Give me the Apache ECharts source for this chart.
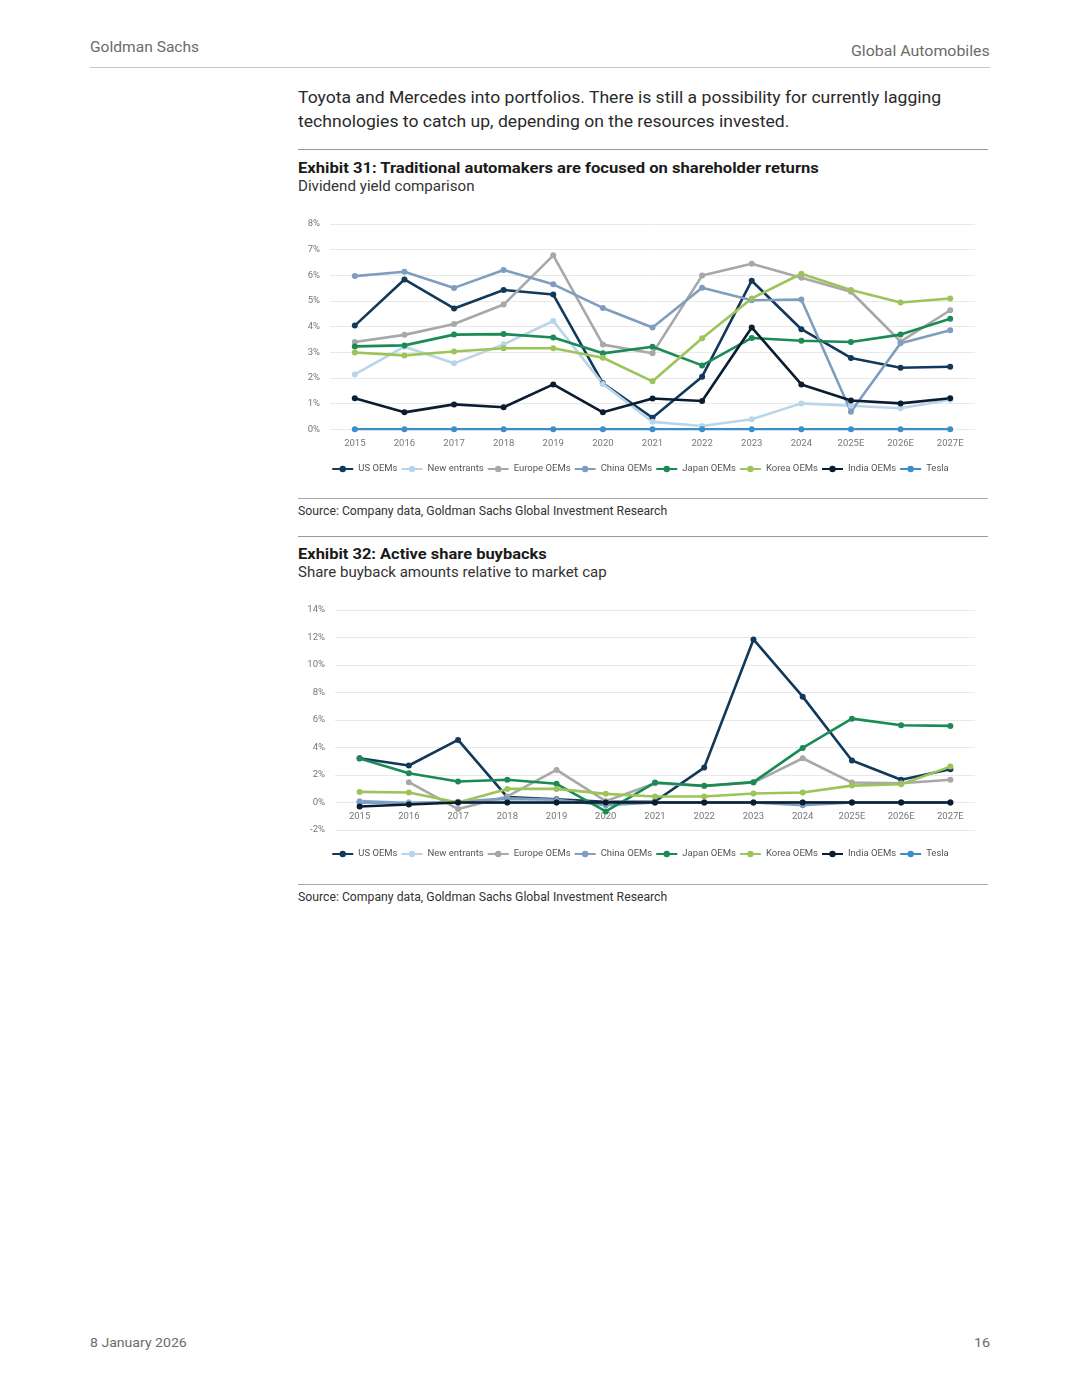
<!DOCTYPE html>
<html>
<head>
<meta charset="utf-8">
<script src="https://cdn.jsdelivr.net/npm/echarts@6/dist/echarts.min.js"></script>
<style>
  html,body{margin:0;padding:0;background:#fff;}
  body{width:1080px;height:1397px;position:relative;overflow:hidden;font-family:Roboto,"Noto Sans",sans-serif;}
  .t{position:absolute;white-space:nowrap;line-height:1;transform-origin:left center;}
  .hr{position:absolute;height:0;}
  .chart{position:absolute;}
</style>
</head>
<body>
<div class="t" data-x="90" data-y="47" data-w="109" style="font-size:15px;color:#6b6b6b;">Goldman Sachs</div>
<div class="t" data-x="851" data-y="51" data-w="139" style="font-size:15px;color:#6b6b6b;">Global Automobiles</div>
<div class="hr" style="left:90px;top:67px;width:900px;border-top:1.5px solid #c4c4c4;"></div>

<div class="t" data-x="298" data-y="97" data-w="643" style="font-size:17px;color:#2a2a2a;">Toyota and Mercedes into portfolios. There is still a possibility for currently lagging</div>
<div class="t" data-x="298" data-y="121" data-w="491" style="font-size:17px;color:#2a2a2a;">technologies to catch up, depending on the resources invested.</div>
<div class="hr" style="left:298px;top:149px;width:690px;border-top:1px solid #9a9a9a;"></div>

<div class="t" data-x="298" data-y="168" data-w="521" style="font-size:15px;font-weight:bold;color:#1a1a1a;">Exhibit 31: Traditional automakers are focused on shareholder returns</div>
<div class="t" data-x="298" data-y="186" data-w="177" style="font-size:14px;color:#333;">Dividend yield comparison</div>
<div id="c1" class="chart" style="left:290px;top:200px;width:700px;height:290px;"></div>
<div class="hr" style="left:298px;top:498px;width:690px;border-top:1px solid #a8a8a8;"></div>
<div class="t" data-x="298" data-y="511" data-w="369" style="font-size:12px;color:#333;">Source: Company data, Goldman Sachs Global Investment Research</div>
<div class="hr" style="left:298px;top:536px;width:690px;border-top:1px solid #9a9a9a;"></div>

<div class="t" data-x="298" data-y="554" data-w="249" style="font-size:15px;font-weight:bold;color:#1a1a1a;">Exhibit 32: Active share buybacks</div>
<div class="t" data-x="298" data-y="572" data-w="309" style="font-size:14px;color:#333;">Share buyback amounts relative to market cap</div>
<div id="c2" class="chart" style="left:290px;top:590px;width:700px;height:290px;"></div>
<div class="hr" style="left:298px;top:884px;width:690px;border-top:1px solid #a8a8a8;"></div>
<div class="t" data-x="298" data-y="897" data-w="369" style="font-size:12px;color:#333;">Source: Company data, Goldman Sachs Global Investment Research</div>

<div class="t" data-x="90" data-y="1343" data-w="97" style="font-size:13.5px;color:#6b6b6b;">8 January 2026</div>
<div class="t" data-x="974" data-y="1343" data-w="16" style="font-size:13.5px;color:#6b6b6b;">16</div>

<script>
// ---------- data ----------
var categories = ['2015','2016','2017','2018','2019','2020','2021','2022','2023','2024','2025E','2026E','2027E'];
var seriesNames = ['US OEMs','New entrants','Europe OEMs','China OEMs','Japan OEMs','Korea OEMs','India OEMs','Tesla'];

// Exhibit 31: dividend yield (%)
var divUS      = [4.04, 5.84, 4.71, 5.43, 5.25, 1.79, 0.45, 2.05, 5.79, 3.90, 2.78, 2.40, 2.44];
var divNew     = [2.14, 3.22, 2.57, 3.31, 4.22, 1.77, 0.29, 0.13, 0.39, 1.01, 0.92, 0.82, 1.15];
var divEurope  = [3.40, 3.68, 4.10, 4.86, 6.78, 3.30, 2.96, 5.99, 6.45, 5.91, 5.36, 3.42, 4.64];
var divChina   = [5.97, 6.14, 5.51, 6.21, 5.65, 4.73, 3.97, 5.52, 5.03, 5.06, 0.68, 3.35, 3.86];
var divJapan   = [3.23, 3.27, 3.69, 3.71, 3.58, 2.96, 3.22, 2.49, 3.56, 3.45, 3.40, 3.69, 4.31];
var divKorea   = [2.99, 2.88, 3.03, 3.16, 3.16, 2.79, 1.87, 3.55, 5.10, 6.06, 5.43, 4.94, 5.10];
var divIndia   = [1.21, 0.66, 0.97, 0.86, 1.75, 0.66, 1.20, 1.10, 3.97, 1.75, 1.12, 1.01, 1.21];
var divTesla   = [0, 0, 0, 0, 0, 0, 0, 0, 0, 0, 0, 0, 0];

// Exhibit 32: share buybacks relative to market cap (%)
var bbUS       = [3.22, 2.69, 4.55, 0.39, 0.24, 0.05, 0.07, 2.54, 11.86, 7.70, 3.05, 1.65, 2.42];
var bbNew      = [0.10, 0.00, 0.00, 0.10, 0.10, -0.10, 0.00, 0.00, 0.00, -0.10, 0.00, 0.00, 0.00];
var bbEurope   = [null, 1.48, -0.48, 0.44, 2.37, 0.10, 1.40, 1.20, 1.45, 3.22, 1.45, 1.40, 1.65];
var bbChina    = [0.08, -0.05, 0.05, 0.30, 0.20, -0.20, 0.00, 0.00, 0.00, -0.20, 0.00, 0.00, 0.00];
var bbJapan    = [3.20, 2.13, 1.53, 1.65, 1.36, -0.65, 1.45, 1.21, 1.48, 3.97, 6.10, 5.62, 5.57];
var bbKorea    = [0.77, 0.73, 0.00, 0.99, 0.99, 0.63, 0.44, 0.44, 0.65, 0.73, 1.23, 1.33, 2.61];
var bbIndia    = [-0.29, -0.15, 0.00, 0.00, 0.00, 0.00, 0.00, 0.00, 0.00, 0.00, 0.00, 0.00, 0.00];
var bbTesla    = [0, 0, 0, 0, 0, 0, 0, 0, 0, 0, 0, 0, 0];

var yTicks1 = {min: 0, max: 8, interval: 1};
var yTicks2 = {min: -2, max: 14, interval: 2};

// ---------- styling ----------
var colors = ['#12395a', '#b9d5ea', '#a8a8a8', '#7f9dbf', '#1b8a55', '#9cc45a', '#0b1d30', '#3b8fc9'];

// place & fit text
document.querySelectorAll('.t').forEach(function(el){
  var x = +el.dataset.x, y = +el.dataset.y, w = +el.dataset.w;
  var r = el.getBoundingClientRect();
  el.style.left = x + 'px';
  el.style.top = (y - r.height/2) + 'px';
  var s = w / el.scrollWidth;
  el.style.transform = 'scaleX(' + s + ')';
});

function makeSeries(datas, zs){
  return datas.map(function(d, i){
    return {
      name: seriesNames[i], type: 'line', data: d,
      symbol: 'circle', symbolSize: 6,
      z: zs ? zs[i] : 2,
      lineStyle: {width: 2.6, color: colors[i]},
      itemStyle: {color: colors[i]},
      emphasis: {disabled: true},
      connectNulls: false
    };
  });
}

function baseOption(grid, ticks, legendTop, fmt, xOffset){
  return {
    animation: false,
    color: colors,
    grid: grid,
    legend: {
      top: legendTop, left: 'center',
      itemWidth: 21, itemHeight: 8, itemGap: 3,
      textStyle: {fontSize: 9.5, color: '#555', fontFamily: 'Roboto'},
      data: seriesNames
    },
    xAxis: {
      type: 'category', data: categories, boundaryGap: true,
      offset: xOffset,
      axisLine: {show: false, onZero: false},
      axisTick: {show: false},
      axisLabel: {fontSize: 9.5, color: '#777', margin: 9, fontFamily: 'Roboto'}
    },
    yAxis: {
      type: 'value', min: ticks.min, max: ticks.max, interval: ticks.interval,
      axisLine: {show: false}, axisTick: {show: false},
      axisLabel: {fontSize: 9.5, color: '#777', margin: 10, formatter: fmt, fontFamily: 'Roboto'},
      splitLine: {lineStyle: {color: '#e9e9e9', width: 1}}
    }
  };
}

var c1 = echarts.init(document.getElementById('c1'));
var o1 = baseOption({left: 40, width: 645, top: 24, height: 205.3}, yTicks1, 259, '{value}%', 0);
o1.series = makeSeries([divUS, divNew, divEurope, divChina, divJapan, divKorea, divIndia, divTesla]);
c1.setOption(o1);

var c2 = echarts.init(document.getElementById('c2'));
var o2 = baseOption({left: 45, width: 640, top: 20, height: 220}, yTicks2, 254, '{value}%', -27.5);
o2.series = makeSeries([bbUS, bbNew, bbEurope, bbChina, bbJapan, bbKorea, bbIndia, bbTesla], [2,2,2,2,3,3,4,1]);
c2.setOption(o2);
</script>
</body>
</html>
